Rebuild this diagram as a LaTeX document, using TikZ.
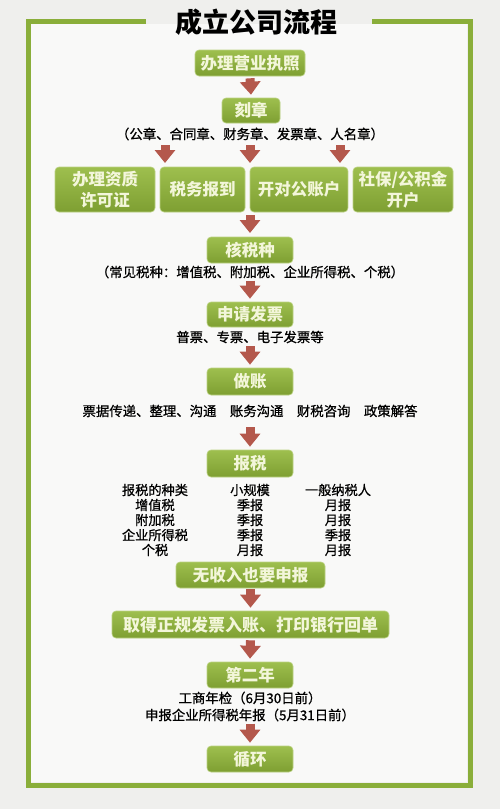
\documentclass[tikz,border=0pt]{standalone}
\usepackage{fontspec}
\newfontfamily\cjk{Noto Sans CJK SC}
\newfontfamily\cjkm[FakeBold=0.8]{Noto Sans CJK SC}
\usetikzlibrary{arrows.meta,calc}
\definecolor{bg}{HTML}{EFEFED}
\definecolor{frame}{HTML}{8AAE3A}
\definecolor{boxtop}{HTML}{9EBF4E}
\definecolor{boxbot}{HTML}{7E9F32}
\definecolor{boxtxt}{HTML}{F3F6DA}
\definecolor{arrowc}{HTML}{B4584C}
\tikzset{
  gbox/.style={rounded corners=4pt, top color=boxtop, bottom color=boxbot, draw=boxtop!70!white, line width=0.6pt,
    text=boxtxt, font=\cjk\bfseries\fontsize{16.5}{19}\selectfont, inner sep=0pt, align=center},
  plain/.style={font=\cjkm\fontsize{13.4}{15}\selectfont, text=black, inner sep=0pt, align=center},
  tab/.style={font=\cjkm\fontsize{13.2}{15}\selectfont, text=black, inner sep=0pt},
  arr/.style={draw=arrowc, line width=9pt, -{Triangle[width=20pt,length=13pt]}}
}
\begin{document}
\begin{tikzpicture}[x=1pt,y=-1pt]
\fill[bg] (0,0) rectangle (500,809);
\useasboundingbox (0,0) rectangle (500,809);
\fill[white!60!bg] (31,24) rectangle (467,782);
\draw[frame, line width=5pt, line join=miter] (146,21) -- (28,21) -- (28,785) -- (470,785) -- (470,21) -- (372,21);
\node[font=\cjk\bfseries\fontsize{27}{30}\selectfont] (title) at (256,22) {成立公司流程};

\node[gbox, minimum width=110pt, minimum height=26pt] (n1) at (250,63) {办理营业执照};
\node[gbox, minimum width=58pt, minimum height=25pt] (n2) at (251,110.5) {刻章};
\node[plain] (seals) at (250,134) {（公章、合同章、财务章、发票章、人名章）};

\node[gbox, minimum width=100pt, minimum height=45pt, font=\cjk\bfseries\fontsize{16.5}{21}\selectfont] (ra) at (105,189.5) {办理资质\\许可证};
\node[gbox, minimum width=85pt, minimum height=45pt] (rb) at (202.5,189.5) {税务报到};
\node[gbox, minimum width=98pt, minimum height=45pt] (rc) at (299,189.5) {开对公账户};
\node[gbox, minimum width=100pt, minimum height=45pt, font=\cjk\bfseries\fontsize{16.5}{21}\selectfont] (rd) at (403,189.5) {社保/公积金\\开户};

\node[gbox, minimum width=86pt, minimum height=26pt] (n3) at (250,250) {核税种};
\node[plain] (t3) at (250,272) {（常见税种：增值税、附加税、企业所得税、个税）};
\node[gbox, minimum width=86pt, minimum height=25pt] (n4) at (250,314.5) {申请发票};
\node[plain] (t4) at (250,337) {普票、专票、电子发票等};
\node[gbox, minimum width=86pt, minimum height=27pt] (n5) at (250,381.5) {做账};
\node[plain] (t5) at (250,411) {票据传递、整理、沟通\hspace{1em}账务沟通\hspace{1em}财税咨询\hspace{1em}政策解答};
\node[gbox, minimum width=86pt, minimum height=27pt] (n6) at (250,463.5) {报税};

\node[tab] (h1) at (155,490) {报税的种类};
\node[tab] (h2) at (250,490) {小规模};
\node[tab] (h3) at (338,490) {一般纳税人};
\node[tab] (a1) at (155,505) {增值税};
\node[tab] (a2) at (250,505) {季报};
\node[tab] (a3) at (338,505) {月报};
\node[tab] (b1) at (155,520) {附加税};
\node[tab] (b2) at (250,520) {季报};
\node[tab] (b3) at (338,520) {月报};
\node[tab] (c1) at (155,535) {企业所得税};
\node[tab] (c2) at (250,535) {季报};
\node[tab] (c3) at (338,535) {季报};
\node[tab] (d1) at (155,550) {个税};
\node[tab] (d2) at (250,550) {月报};
\node[tab] (d3) at (338,550) {月报};

\node[gbox, minimum width=149pt, minimum height=26pt] (n7) at (250.5,575) {无收入也要申报};
\node[gbox, minimum width=277pt, minimum height=27pt, font=\cjk\bfseries\fontsize{17}{19}\selectfont] (n8) at (250.5,624.5) {取得正规发票入账、打印银行回单};
\node[gbox, minimum width=86pt, minimum height=26pt] (n9) at (250,675) {第二年};
\node[plain] (t9a) at (250,698) {工商年检（6月30日前）};
\node[plain] (t9b) at (250,715) {申报企业所得税年报（5月31日前）};
\node[gbox, minimum width=86pt, minimum height=26pt] (n10) at (250,759) {循环};

\coordinate (xl) at (165,0);
\coordinate (xm) at (250,0);
\coordinate (xr) at (340,0);
\coordinate (s1) at (0,145);
\coordinate (s2) at (0,163);
\coordinate (r1) at (0,215);
\coordinate (r2) at (0,233);

\draw[arr] ($(n1.south)+(0,2)$) -- ($(n2.north)+(0,-3)$);
\draw[arr] (xl |- s1) -- (xl |- s2);
\draw[arr] (xm |- s1) -- (xm |- s2);
\draw[arr] (xr |- s1) -- (xr |- s2);
\draw[arr] (xm |- r1) -- (xm |- r2);
\draw[arr] ($(t3.south)+(0,2)$) -- ($(n4.north)+(0,-3)$);
\draw[arr] ($(t4.south)+(0,3)$) -- ($(n5.north)+(0,-3)$);
\draw[arr] ($(t5.south)+(0,10)$) -- ($(n6.north)+(0,-3)$);
\draw[arr] ($(n7.south)+(0,1)$) -- ($(n8.north)+(0,-3)$);
\draw[arr] ($(n8.south)+(0,2)$) -- ($(n9.north)+(0,-3)$);
\draw[arr] ($(t9b.south)+(0,2)$) -- ($(n10.north)+(0,-3)$);
\end{tikzpicture}
\end{document}
